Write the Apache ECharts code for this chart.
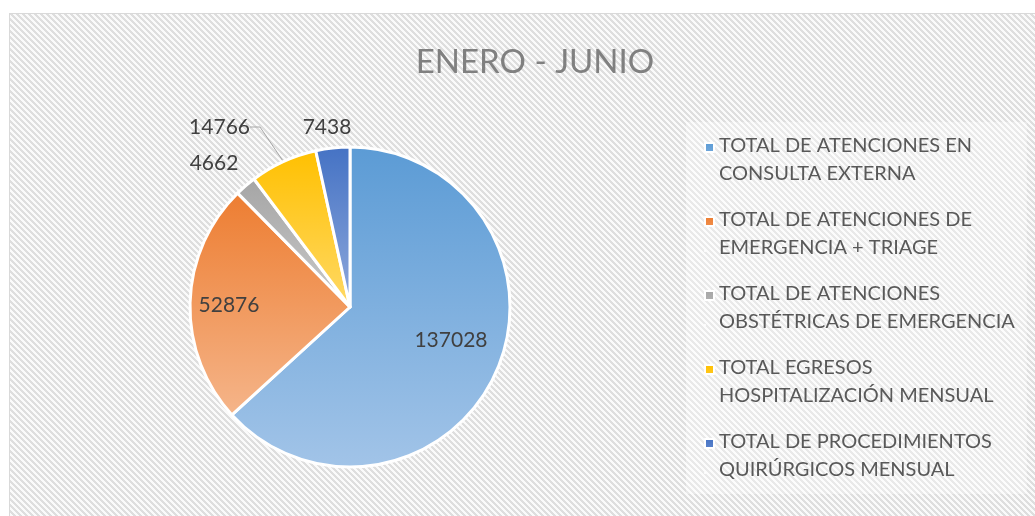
<!DOCTYPE html>
<html>
<head>
<meta charset="utf-8">
<script src="https://cdn.jsdelivr.net/npm/echarts@6/dist/echarts.min.js"></script>
<style>
  html, body { margin: 0; padding: 0; background: #fff; overflow: hidden; }
  #pie {
    position: absolute; left: 9px; top: 13px;
    width: 1040px; height: 510px;
    border: 1px solid #d9d9d9;
  }
</style>
</head>
<body>
<div id="pie"></div>
<script>
// datos del grafico
const titulo = 'ENERO - JUNIO'
const categorias = [
  'TOTAL DE ATENCIONES EN\nCONSULTA EXTERNA',
  'TOTAL DE ATENCIONES DE\nEMERGENCIA + TRIAGE',
  'TOTAL DE ATENCIONES\nOBSTÉTRICAS DE EMERGENCIA',
  'TOTAL EGRESOS\nHOSPITALIZACIÓN MENSUAL',
  'TOTAL DE PROCEDIMIENTOS\nQUIRÚRGICOS MENSUAL'
]
const valores = [137028, 52876, 4662, 14766, 7438]

// colores estilo Excel (arriba -> abajo)
const coloresArriba = ['#5B9BD5', '#ED7D31', '#A5A5A5', '#FFC000', '#4472C4']
const coloresAbajo = ['#A2C4E8', '#F5B58A', '#CACACA', '#FFD966', '#90A9DC']

// fondo rayado
function rayado() {
  let c = document.createElement('canvas')
  c.width = 6
  c.height = 6
  let ctx = c.getContext('2d')
  let img = ctx.createImageData(6, 6)
  for (let y = 0; y < 6; y++) {
    for (let x = 0; x < 6; x++) {
      let i = (y * 6 + x) * 4
      let v = ((x - y + 12) % 6) < 3 ? 222 : 250
      img.data[i] = v
      img.data[i + 1] = v
      img.data[i + 2] = v
      img.data[i + 3] = 255
    }
  }
  ctx.putImageData(img, 0, 0)
  return c
}

let datos = valores.map(function (v, i) {
  return {
    name: categorias[i],
    value: v,
    itemStyle: {
      color: {
        type: 'linear', x: 0, y: 0, x2: 0, y2: 1,
        colorStops: [
          { offset: 0, color: coloresArriba[i] },
          { offset: 1, color: coloresAbajo[i] }
        ]
      }
    },
    label: { position: i < 2 ? 'inside' : 'outside' },
    labelLine: { show: i === 3 }
  }
})

// posiciones de etiquetas
const ajusteDentro = [[25, 0], [-38, 0]]
const etiquetasFuera = { 2: [204, 149, 'center'], 3: [240, 113, 'right'], 4: [317, 113, 'center'] }

// cuadro de leyenda alineado con la primera linea del texto
const iconoLeyenda = 'path://M0,0h10v10h-10zM0,38h0.01v0.01h-0.01z'

let myChart = echarts.init(document.getElementById('pie'))
myChart.setOption({
  backgroundColor: { image: rayado(), repeat: 'repeat' },
  textStyle: { fontFamily: 'Lato' },
  title: {
    text: titulo,
    left: 520,
    top: 27,
    textAlign: 'center',
    textStyle: { fontFamily: 'Lato', fontWeight: 'normal', fontSize: 33, color: '#808080' }
  },
  legend: {
    orient: 'vertical',
    left: 676,
    top: 108,
    padding: [10, 12, 10, 18],
    backgroundColor: 'rgba(255,255,255,0.35)',
    icon: iconoLeyenda,
    itemWidth: 9,
    itemHeight: 38,
    itemGap: 18,
    width: 360,
    height: 370,
    textStyle: { fontFamily: 'Lato', fontSize: 20, color: '#595959', lineHeight: 28, padding: [0, 0, 0, 0] },
    data: categorias
  },
  series: [
    {
      type: 'pie',
      center: [340, 293],
      radius: 160,
      startAngle: 90,
      clockwise: true,
      avoidLabelOverlap: false,
      itemStyle: { borderColor: '#fff', borderWidth: 3 },
      label: {
        formatter: '{c}',
        fontFamily: 'Lato',
        fontSize: 21,
        color: '#404040'
      },
      labelLine: { lineStyle: { color: '#a6a6a6', width: 1 }, length: 15, length2: 10 },
      labelLayout: function (p) {
        if (p.dataIndex < 2) {
          return { dx: ajusteDentro[p.dataIndex][0], dy: ajusteDentro[p.dataIndex][1] }
        }
        let e = etiquetasFuera[p.dataIndex]
        return { x: e[0], y: e[1], align: e[2], verticalAlign: 'middle' }
      },
      emphasis: { disabled: true },
      data: datos
    }
  ]
})
window.addEventListener('resize', function () {
  myChart.resize()
})
</script>
</body>
</html>
